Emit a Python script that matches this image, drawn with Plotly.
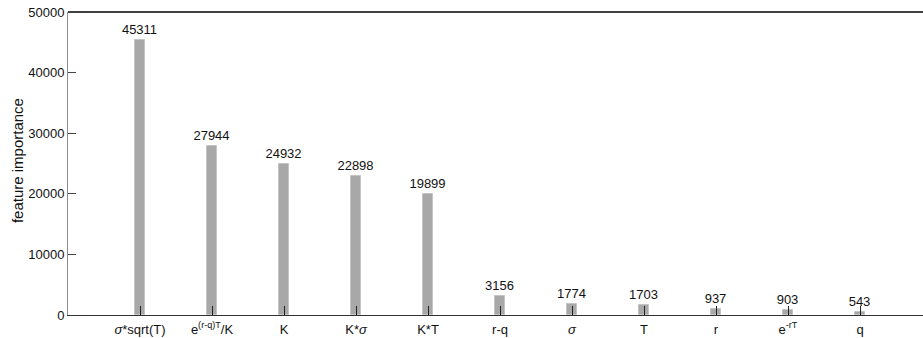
import plotly.graph_objects as go

# Feature importance per engineered input
features = ["<i>σ</i>*sqrt(T)", "e<sup>(r-q)T</sup>/K", "K", "K*<i>σ</i>", "K*T",
            "r-q", "<i>σ</i>", "T", "r", "e<sup>-rT</sup>", "q"]
importance = [45311, 27944, 24932, 22898, 19899, 3156, 1774, 1703, 937, 903, 543]
y_ticks = [0, 10000, 20000, 30000, 40000, 50000]

FONT = "Liberation Sans, Arial, Helvetica, sans-serif"

fig = go.Figure(go.Bar(
    x=features,
    y=importance,
    width=0.14,
    marker=dict(color="#a8a8a8", line=dict(color="#c4c4c4", width=1)),
    text=[str(v) for v in importance],
    textposition="outside",
    constraintext="none",
    textfont=dict(family=FONT, size=13, color="#111111"),
    cliponaxis=False,
))

fig.update_layout(
    width=923, height=338,
    margin=dict(l=68, r=0, t=12, b=23),
    paper_bgcolor="white", plot_bgcolor="white",
    showlegend=False,
    font=dict(family=FONT, size=13, color="#111111"),
    bargap=0,
)

fig.update_xaxes(
    type="category",
    range=[-1, 10.875],
    automargin=False,
    showgrid=False, zeroline=False,
    showline=True, linecolor="#333333", linewidth=1,
    ticks="inside", ticklen=9, tickcolor="#222222", tickwidth=1,
    ticklabelstandoff=2,
    tickfont=dict(family=FONT, size=13, color="#111111"),
)

fig.update_yaxes(
    range=[0, 50000],
    automargin=False,
    tickvals=y_ticks,
    ticktext=[str(v) for v in y_ticks],
    showgrid=False, zeroline=False,
    showline=True, linecolor="#8c8c8c", linewidth=1,
    ticks="inside", ticklen=8, tickcolor="#444444", tickwidth=1,
    tickfont=dict(family=FONT, size=13, color="#111111"),
)

# top frame line
fig.add_shape(type="line", xref="paper", yref="paper", x0=0, x1=1, y0=1, y1=1,
              line=dict(color="black", width=1.5))

# y-axis title
fig.add_annotation(text="feature importance", xref="paper", yref="paper",
                   x=-0.0596, y=0.508, textangle=-90, showarrow=False,
                   xanchor="center", yanchor="middle",
                   font=dict(family=FONT, size=15, color="#111111"))

fig.write_html("out.html")
